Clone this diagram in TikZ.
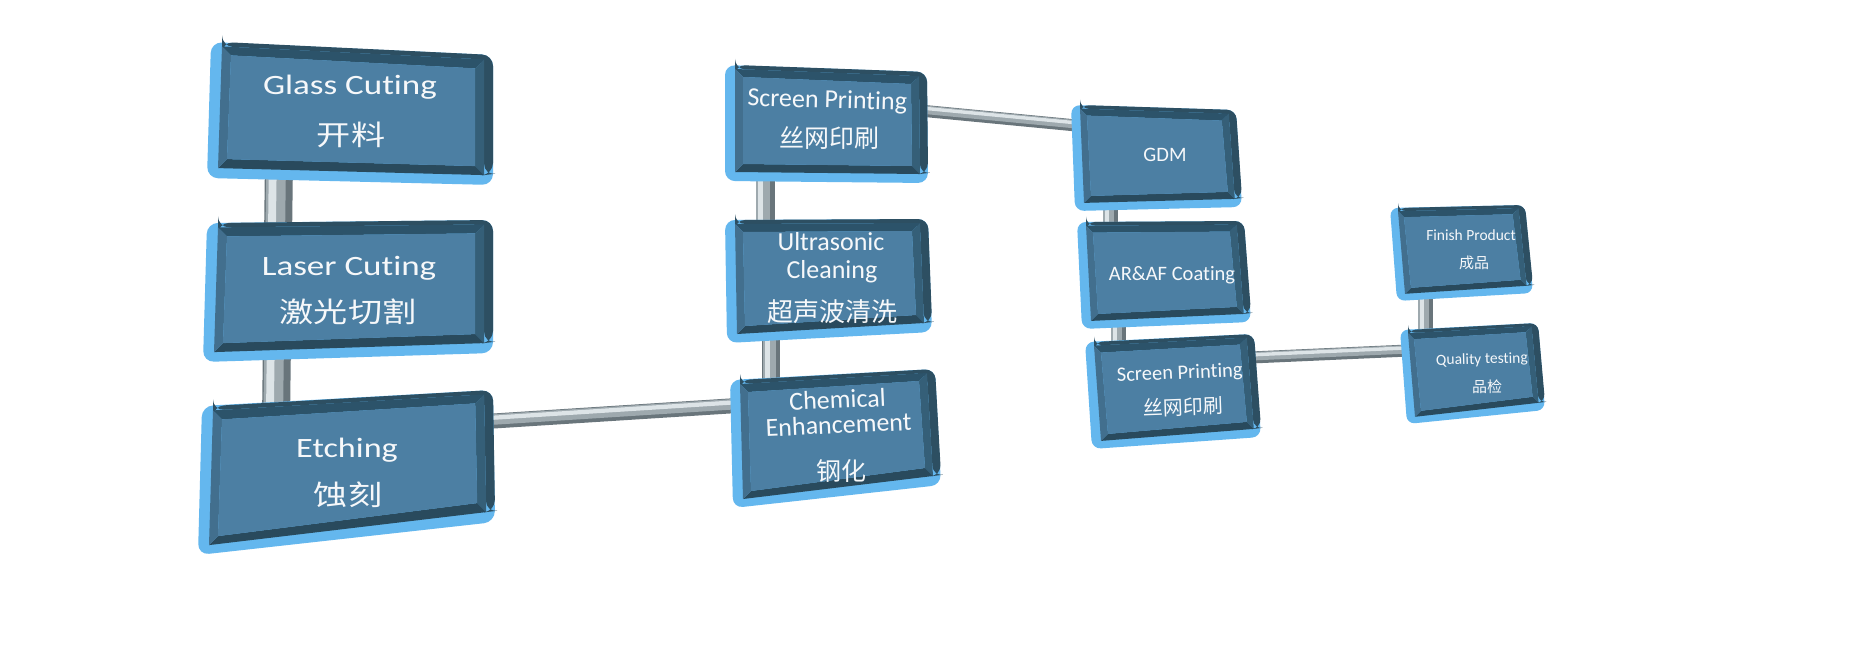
\documentclass[tikz,border=0pt]{standalone}
\usepackage{fontspec}
\setmainfont{Carlito}[Ligatures={NoCommon,NoContextual}]
\newfontfamily\cjk{Noto Sans CJK SC}
\usetikzlibrary{calc}
\definecolor{rimL}{HTML}{64B7EE}
\definecolor{rimD}{HTML}{2D4F62}
\definecolor{bevT}{HTML}{2C536A}
\definecolor{bevL}{HTML}{426F8E}
\definecolor{bevB}{HTML}{294A5D}
\definecolor{bevR}{HTML}{355F78}
\definecolor{faceC}{HTML}{4C7FA3}
\definecolor{pipeD}{HTML}{69757B}
\definecolor{pipeM}{HTML}{9EA9AE}
\definecolor{pipeL}{HTML}{DDE4E7}
\definecolor{txt}{HTML}{F6F8FA}

% #1 name, #2-#5 outer corners TL TR BR BL, #6 rim, #7 bevel
\newcommand\slab[7]{%
  \coordinate (#1o1) at (#2);
  \coordinate (#1o2) at (#3);
  \coordinate (#1o3) at (#4);
  \coordinate (#1o4) at (#5);
  \coordinate (#1f1) at ($(#1o1)+({#6},{0.4*#6})$);
  \coordinate (#1f2) at ($(#1o2)+({-0.8*#6},{0.4*#6})$);
  \coordinate (#1f3) at ($(#1o3)+({-0.8*#6},{-0.9*#6})$);
  \coordinate (#1f4) at ($(#1o4)+({#6},{-0.9*#6})$);
  \coordinate (#1i1) at ($(#1f1)+({#7},{#7})$);
  \coordinate (#1i2) at ($(#1f2)+({-#7},{#7})$);
  \coordinate (#1i3) at ($(#1f3)+({-#7},{-#7})$);
  \coordinate (#1i4) at ($(#1f4)+({#7},{-#7})$);
  \fill[rimL, rounded corners=#6pt] (#1o1)--(#1o2)--(#1o3)--(#1o4)--cycle;
  \fill[rimD, rounded corners=#6pt] ($(#1o1)+({#6},0)$)--(#1o2)--($(#1o3)+(0,{-#6})$)--(#1f3)--(#1f2)--(#1f1)--cycle;
  \fill[bevT] (#1f1)--(#1f2)--(#1i2)--(#1i1)--cycle;
  \fill[bevR] (#1f2)--(#1f3)--(#1i3)--(#1i2)--cycle;
  \fill[bevB] (#1f3)--(#1f4)--(#1i4)--(#1i3)--cycle;
  \fill[bevL] (#1f4)--(#1f1)--(#1i1)--(#1i4)--cycle;
  \fill[faceC] (#1i1)--(#1i2)--(#1i3)--(#1i4)--cycle;
}

% #1 from, #2 to, #3 width, #4 #5 direction of the lit side
\newcommand\pipe[5]{%
  \draw[pipeD, line width=#3pt] (#1)--(#2);
  \draw[pipeM, line width={0.7*#3pt}]
    ([shift={({0.1*#3*(#4)},{0.1*#3*(#5)})}]#1)--([shift={({0.1*#3*(#4)},{0.1*#3*(#5)})}]#2);
  \draw[pipeL, line width={0.28*#3pt}]
    ([shift={({0.22*#3*(#4)},{0.22*#3*(#5)})}]#1)--([shift={({0.22*#3*(#4)},{0.22*#3*(#5)})}]#2);
}

\tikzset{
  en/.style={text=txt, inner sep=0pt, anchor=base},
  cn/.style={text=txt, inner sep=0pt, anchor=center},
  fA/.style={font=\fontsize{28}{34}\selectfont},
  fAc/.style={font=\cjk\fontsize{28}{34}\selectfont},
  fB/.style={font=\fontsize{26}{31}\selectfont},
  fBc/.style={font=\cjk\fontsize{25}{30}\selectfont},
  fC/.style={font=\fontsize{20.5}{25}\selectfont},
  fCc/.style={font=\cjk\fontsize{20}{24}\selectfont},
  fD/.style={font=\fontsize{15.5}{19}\selectfont},
  fDc/.style={font=\cjk\fontsize{15}{18}\selectfont},
}

\begin{document}
\begin{tikzpicture}[x=1pt,y=-1pt]
\fill[white] (0,0) rectangle (1853,658);
\useasboundingbox (0,0) rectangle (1853,658);

% pipe end points (hidden inside the slabs)
\coordinate (g1) at (279,160);   \coordinate (l1) at (278,240);
\coordinate (l2) at (277,340);   \coordinate (e1) at (276,420);
\coordinate (e2) at (470,422.5); \coordinate (c1) at (750,404.7);
\coordinate (s1) at (765,170);   \coordinate (u1) at (765,235);
\coordinate (u2) at (771,320);   \coordinate (c2) at (771,395);
\coordinate (s2) at (910,109.6); \coordinate (d1) at (1090,126.8);
\coordinate (d2) at (1110,195);  \coordinate (a1) at (1110,235);
\coordinate (a2) at (1118,315);  \coordinate (p1) at (1118,355);
\coordinate (p2) at (1240,358);  \coordinate (q1) at (1420,350);
\coordinate (f1) at (1425,285);  \coordinate (q2) at (1425,340);

\pipe{g1}{l1}{28}{-1}{0}
\pipe{l2}{e1}{28}{-1}{0}
\pipe{e2}{c1}{15}{0}{-1}
\pipe{s1}{u1}{19}{-1}{0}
\pipe{u2}{c2}{18}{-1}{0}
\pipe{s2}{d1}{12}{0}{-1}
\pipe{d2}{a1}{15}{-1}{0}
\pipe{a2}{p1}{15}{-1}{0}
\pipe{p2}{q1}{12}{0}{-1}
\pipe{f1}{q2}{15}{-1}{0}

% slabs
\slab{G}{211,42}{493,55}{493,185}{207,178}{11}{9}
\slab{L}{207,223}{493,220}{493,353}{203,362}{11}{9}
\slab{E}{202,406}{493,390}{495,522}{198,555}{11}{9}
\slab{S}{725,65}{927,72}{928,183}{725,181}{10}{8}
\slab{U}{725,220}{928,219}{932,332}{727,343}{10}{8}
\slab{C}{730,380}{935,369}{941,485}{733,508}{10}{8}
\slab{D}{1071,105}{1236,110}{1242,207}{1075,211}{9}{7}
\slab{A}{1077,222}{1244,221}{1251,322}{1082,329}{9}{7}
\slab{P}{1085,342}{1254,334}{1261,437}{1092,449}{9}{7}
\slab{F}{1390,208}{1525,205}{1533,293}{1397,301}{8}{6}
\slab{Q}{1400,330}{1538,323}{1545,410}{1407,424}{8}{6}

% texts
\node[en,fA] (glassEN) at (350,95) {\scalebox{1.25}[1]{Glass Cuting}};
\node[cn,fAc] (glassCN) at (351,135) {\scalebox{1.22}[1]{开料}};
\node[en,fA] (laserEN) at (349,275) {\scalebox{1.25}[1]{Laser Cuting}};
\node[cn,fAc] (laserCN) at (348,312) {\scalebox{1.22}[1]{激光切割}};
\node[en,fA] (etchEN) at (347,457) {\scalebox{1.22}[1]{Etching}};
\node[cn,fAc] (etchCN) at (348,495) {\scalebox{1.22}[1]{蚀刻}};

\node[en,fB,rotate=-1.5] (sp1EN) at (827,108) {Screen Printing};
\node[cn,fBc] (sp1CN) at (829,138) {丝网印刷};
\node[en,fB] (ultEN1) at (831,250) {Ultrasonic};
\node[en,fB] (ultEN2) at (832,278) {Cleaning};
\node[cn,fBc,font=\cjk\fontsize{26}{30}\selectfont] (ultCN) at (832,312) {超声波清洗};
\node[cn,align=center,font=\fontsize{26}{25}\selectfont,rotate=2.5] (chemEN) at (838,412)
  {Chemical\\Enhancement};
\node[cn,fBc] (chemCN) at (841,471) {钢化};

\node[cn,fC] (gdm) at (1165,155) {GDM};
\node[en,fC] (arEN) at (1172,280) {AR\&AF Coating};
\node[en,fC,rotate=2.5] (sp2EN) at (1180,379) {Screen Printing};
\node[cn,fCc,rotate=2] (sp2CN) at (1183,407) {丝网印刷};
\node[en,fD] (fpEN) at (1471,240) {Finish Product};
\node[cn,fDc] (fpCN) at (1474,263) {成品};
\node[en,fD,rotate=1.5] (qtEN) at (1482,364) {Quality testing};
\node[cn,fDc] (qtCN) at (1487,387) {品检};
\end{tikzpicture}
\end{document}
